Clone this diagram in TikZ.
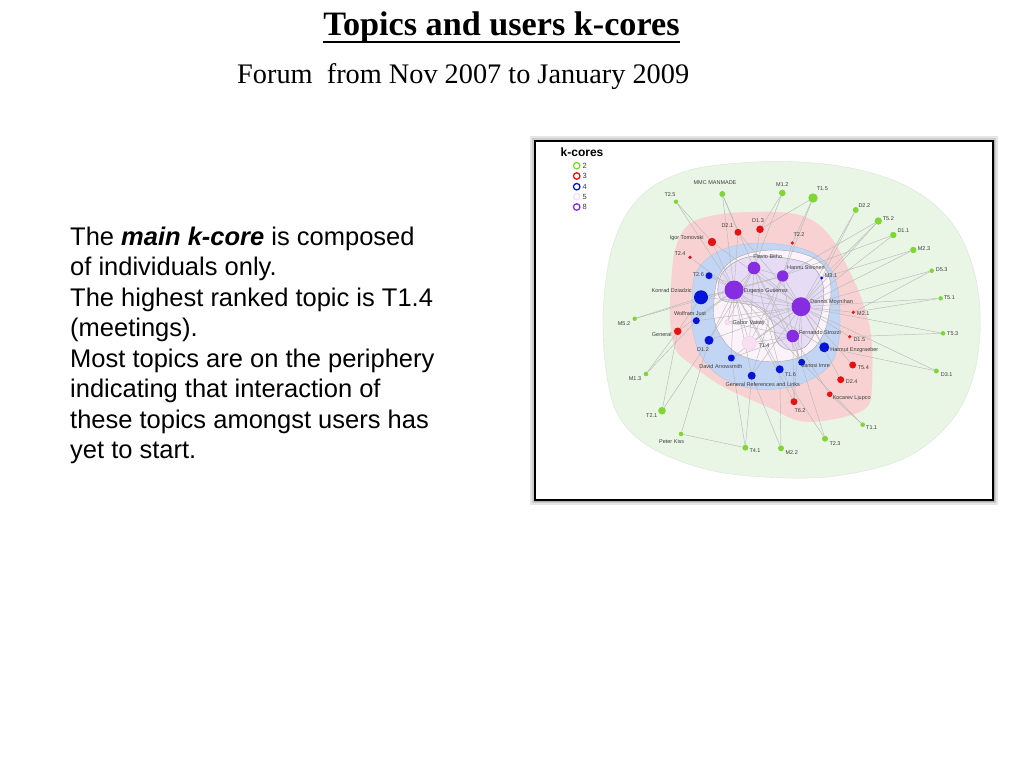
\documentclass[tikz,border=0pt]{standalone}
\usepackage{fontspec}
\setmainfont{Liberation Serif}
\setsansfont{Liberation Sans}
\definecolor{kgreen}{RGB}{128,214,52}
\definecolor{kred}{RGB}{228,18,18}
\definecolor{kblue}{RGB}{5,20,215}
\definecolor{kpurple}{RGB}{135,45,225}
\definecolor{kpink}{RGB}{250,222,242}
\definecolor{rgreen}{RGB}{233,246,230}
\definecolor{rred}{RGB}{248,210,210}
\definecolor{rblue}{RGB}{194,213,244}
\definecolor{rwhite}{RGB}{251,243,249}
\definecolor{rpurple}{RGB}{230,220,246}
\definecolor{edgec}{RGB}{185,185,185}
\definecolor{lblc}{RGB}{60,60,60}
\pgfdeclarelayer{bg}
\pgfdeclarelayer{edges}
\pgfsetlayers{bg,edges,main}
\tikzset{
  gn/.style={circle,fill=kgreen,inner sep=0,minimum size=#1},
  rn/.style={circle,fill=kred,inner sep=0,minimum size=#1},
  bn/.style={circle,fill=kblue,inner sep=0,minimum size=#1},
  pn/.style={circle,fill=kpurple,inner sep=0,minimum size=#1},
  kn/.style={circle,fill=kpink,draw=kpink!80!gray,line width=0.3,inner sep=0,minimum size=#1},
  edge/.style={draw=edgec,line width=0.45},
  lbl/.style={font=\sffamily\fontsize{5.5}{6}\selectfont,text=lblc,inner sep=0},
  txt/.style={font=\sffamily\fontsize{25.5}{30}\selectfont,anchor=base west,inner sep=0},
  legring/.style={circle,draw=#1,line width=1.3,inner sep=0,minimum size=6.5},
  legnum/.style={font=\sffamily\fontsize{7.5}{8}\selectfont,text=lblc,inner sep=0,anchor=west},
  region/.style={line width=0.4}
}
\begin{document}
\begin{tikzpicture}[x=1pt,y=-1pt]
\useasboundingbox (0,0) rectangle (1024,768);

\begin{pgfonlayer}{bg}
\fill[white] (0,0) rectangle (1024,768);
% frame with shadow
\fill[gray!20] (530,136) rectangle (998,505);
\fill[gray!40] (532,138) rectangle (996,503);
\fill[gray!65] (533.5,139.5) rectangle (994.5,501.5);
\filldraw[fill=white,draw=black,line width=1.8] (535,141) rectangle (993,500);
% regions
\filldraw[region,fill=rgreen,draw=rgreen!85!gray] plot[smooth cycle,tension=0.6] coordinates {
 (603,320) (606,280) (613,245) (628,212) (652,187) (690,170) (740,163) (800,162) (860,170) (910,188) (948,218) (970,258) (980,310) (975,370) (952,420) (905,458) (835,476) (765,477) (705,469) (650,447) (618,415) (606,370)};
\fill[rred] plot[smooth cycle,tension=0.6] coordinates {
 (670,320) (671,285) (675,250) (688,225) (715,215) (750,212) (790,213) (815,222) (833,240) (848,268) (862,300) (871,335) (872,385) (866,408) (835,419) (800,421) (770,408) (740,395) (715,382) (692,365) (676,350)};
\filldraw[region,fill=rblue,draw=rblue!80!gray] plot[smooth cycle,tension=0.6] coordinates {
 (692,300) (695,275) (708,258) (730,247) (760,243) (790,246) (813,253) (830,268) (838,290) (840,320) (838,345) (830,365) (810,380) (785,388) (755,389) (728,381) (710,368) (698,350) (692,325)};
\filldraw[region,fill=rwhite,draw=gray!70] plot[smooth cycle,tension=0.6] coordinates {
 (714,300) (718,278) (730,262) (750,253) (775,250) (800,253) (820,262) (830,280) (830,305) (825,330) (812,350) (790,360) (760,361) (735,352) (720,335) (714,318)};
\filldraw[region,fill=rpurple,draw=gray!80] plot[smooth cycle,tension=0.6] coordinates {
 (718,293) (721,275) (735,262) (755,256) (785,258) (810,265) (822,281) (823,305) (816,330) (805,347) (790,350) (777,342) (772,322) (760,308) (740,303) (724,301)};
\end{pgfonlayer}

% titles
\node[anchor=base,inner sep=0,font=\fontsize{34.2}{40}\selectfont\bfseries] (title) at (501.5,35.5) {Topics and users k-cores};
\draw[line width=1.9] ([yshift=-6.5pt]title.base west) -- ([yshift=-6.5pt]title.base east);
\node[anchor=base west,inner sep=0,font=\fontsize{28.3}{33}\selectfont] (sub) at (237,83.3) {Forum\ \ from Nov 2007 to January 2009};

% left text
\node[txt] (l1) at (70,245.3) {The \textbf{\textit{main k-core}} is composed};
\node[txt] (l2) at (70,275.8) {of individuals only.};
\node[txt] (l3) at (70,306.3) {The highest ranked topic is T1.4};
\node[txt] (l4) at (70,336.8) {(meetings).};
\node[txt] (l5) at (70,367.3) {Most topics are on the periphery};
\node[txt] (l6) at (70,397.8) {indicating that interaction of};
\node[txt] (l7) at (70,428.3) {these topics amongst users has};
\node[txt] (l8) at (70,458.8) {yet to start.};

% legend
\node[font=\sffamily\bfseries\fontsize{12}{13}\selectfont,inner sep=0] (legt) at (582,152.7) {k-cores};
\node[legring=kgreen] (lg2) at (576.7,165.7) {};
\node[legring=kred] (lg3) at (576.7,176) {};
\node[legring=kblue] (lg4) at (576.7,186.7) {};
\node[legring=kpink] (lg5) at (576.7,196.7) {};
\node[legring=kpurple] (lg8) at (576.7,207) {};
\node[legnum] (ln2) at (582.5,165.7) {2};
\node[legnum] (ln3) at (582.5,176) {3};
\node[legnum] (ln4) at (582.5,186.7) {4};
\node[legnum] (ln5) at (582.5,196.7) {5};
\node[legnum] (ln8) at (582.5,207) {8};

% nodes: green
\node[gn=6] (mmc) at (722.3,194) {};
\node[gn=4.4] (t25) at (676,201.7) {};
\node[gn=6.6] (m12) at (782.3,193) {};
\node[gn=9.4] (t15) at (813,198) {};
\node[gn=6] (d22) at (855.7,210) {};
\node[gn=7.4] (t52) at (878.3,221) {};
\node[gn=6.4] (d11) at (893.3,235) {};
\node[gn=6.4] (m23) at (913.3,250) {};
\node[gn=4.6] (d53) at (931.7,270.7) {};
\node[gn=4.4] (t51) at (940.7,298.3) {};
\node[gn=4.6] (t53) at (943,333.3) {};
\node[gn=5] (d31) at (936.3,371) {};
\node[gn=4.6] (t11) at (862.7,424.7) {};
\node[gn=6] (t23) at (825,438.7) {};
\node[gn=6] (m22) at (781,448.3) {};
\node[gn=6] (t41) at (745.3,447.7) {};
\node[gn=4.6] (pk) at (681,434) {};
\node[gn=7.6] (t21) at (662,410.7) {};
\node[gn=4.6] (m13) at (646,374) {};
\node[gn=4.4] (m52) at (634.7,318.7) {};
% red
\node[rn=7] (d21) at (738,232.3) {};
\node[rn=7.6] (d13) at (760,229.3) {};
\node[rn=8.4] (igor) at (712,242) {};
\node[rn=3.6] (t22) at (792.3,243) {};
\node[rn=3.6] (t24) at (690,257.3) {};
\node[rn=3.6] (m21) at (853.3,312.3) {};
\node[rn=7.6] (gen) at (677.7,331.3) {};
\node[rn=3.6] (d15) at (849.7,336.7) {};
\node[rn=7] (t54) at (852.7,365) {};
\node[rn=7] (d24) at (840.7,379.7) {};
\node[rn=5.6] (koc) at (829.7,394.3) {};
\node[rn=7] (t62) at (794,401.7) {};
% blue
\node[bn=7] (t26) at (709,275.7) {};
\node[bn=14] (konrad) at (701,297.3) {};
\node[bn=3.4] (m31) at (821.7,278) {};
\node[bn=7] (wolf) at (696.3,320.7) {};
\node[bn=9] (d12) at (709,340.3) {};
\node[bn=10] (harm) at (824.3,347.3) {};
\node[bn=7] (david) at (731.3,358) {};
\node[bn=7] (janos) at (801.7,362.3) {};
\node[bn=8] (t16) at (779.7,369.3) {};
\node[bn=8] (grl) at (751.7,375.7) {};
% k5 / k8
\node[kn=5] (gabor) at (727.3,322.3) {};
\node[kn=14] (t14) at (749.3,343.3) {};
\node[pn=12.6] (flavio) at (754,268) {};
\node[pn=11.4] (hannu) at (782.7,276) {};
\node[pn=19] (eug) at (734,290) {};
\node[pn=19] (dennis) at (801,306.7) {};
\node[pn=12.6] (fern) at (792.7,336) {};

% edges
\begin{pgfonlayer}{edges}
\foreach \a/\b in {t25/igor,t25/eug,mmc/d21,mmc/eug,mmc/flavio,m12/d13,m12/flavio,t15/hannu,t15/d13,t15/t22,
  d22/m31,d22/dennis,t52/dennis,t52/hannu,t52/m31,d11/dennis,d11/hannu,m23/dennis,m23/m31,d53/dennis,d53/m21,
  t51/dennis,t51/m21,t53/dennis,t53/d15,d31/harm,d31/dennis,t11/koc,t11/janos,t23/t16,t23/fern,m22/grl,m22/t16,
  t41/pk,t41/grl,t41/david,pk/d12,t21/gen,t21/d12,m13/gen,m13/wolf,m52/konrad,m52/eug,
  igor/eug,d21/eug,d13/flavio,t22/hannu,t24/eug,gen/eug,gen/konrad,m21/dennis,d15/dennis,t54/dennis,d24/dennis,
  koc/fern,t62/eug,t62/dennis,t26/eug,konrad/eug,konrad/dennis,wolf/eug,d12/eug,d12/dennis,harm/dennis,
  david/eug,janos/dennis,t16/eug,grl/eug,grl/dennis,m31/dennis,t26/dennis,wolf/dennis,david/dennis,janos/eug,
  eug/flavio,eug/hannu,eug/dennis,eug/fern,flavio/hannu,flavio/dennis,hannu/dennis,dennis/fern,flavio/fern,
  hannu/fern,gabor/eug,t14/eug,t14/dennis,gabor/dennis,t14/fern,harm/eug,igor/dennis,d21/dennis,t62/fern,
  t14/flavio,t14/hannu,gabor/flavio,gabor/fern,d12/flavio,david/fern,t16/flavio,grl/hannu,janos/flavio,konrad/hannu}
  {\draw[edge] (\a) -- (\b);}
\end{pgfonlayer}

% labels
\node[lbl] (Lmmc) at (715,182.7) {MMC MANMADE};
\node[lbl] (Lt25) at (670,194.3) {T2.5};
\node[lbl] (Lm12) at (782.3,184.3) {M1.2};
\node[lbl] (Lt15) at (822.3,189) {T1.5};
\node[lbl] (Ld22) at (864.3,205.3) {D2.2};
\node[lbl] (Lt52) at (888.3,219) {T5.2};
\node[lbl] (Ld11) at (903.3,230.7) {D1.1};
\node[lbl] (Lm23) at (924,248.3) {M2.3};
\node[lbl] (Ld53) at (941.7,270) {D5.3};
\node[lbl] (Lt51) at (949.3,297.7) {T5.1};
\node[lbl] (Lt53) at (952.7,333.3) {T5.3};
\node[lbl] (Ld31) at (946.7,374.3) {D3.1};
\node[lbl] (Lt11) at (871.7,427.3) {T1.1};
\node[lbl] (Lt23) at (835,443.3) {T2.3};
\node[lbl] (Lm22) at (791.7,452.7) {M2.2};
\node[lbl] (Lt41) at (755,450.7) {T4.1};
\node[lbl] (Lpk) at (671.7,441.7) {Peter Kiss};
\node[lbl] (Lt21) at (651.7,416) {T2.1};
\node[lbl] (Lm13) at (635,378.3) {M1.3};
\node[lbl] (Lm52) at (624,323.3) {M5.2};
\node[lbl] (Ld21) at (727.3,225.3) {D2.1};
\node[lbl] (Ld13) at (758,220.7) {D1.3};
\node[lbl] (Ligor) at (686.7,237.7) {Igor Tomovski};
\node[lbl] (Lt22) at (799,235) {T2.2};
\node[lbl] (Lt24) at (680,253.3) {T2.4};
\node[lbl] (Lm21) at (863.3,314) {M2.1};
\node[lbl] (Lgen) at (661.7,335) {General};
\node[lbl] (Ld15) at (859.3,339.3) {D1.5};
\node[lbl] (Lt54) at (863.3,367.3) {T5.4};
\node[lbl] (Ld24) at (851.7,381.7) {D2.4};
\node[lbl] (Lkoc) at (851.7,398.3) {Kocarev Ljupco};
\node[lbl] (Lt62) at (800,411) {T6.2};
\node[lbl] (Lt26) at (698.3,274.7) {T2.6};
\node[lbl] (Lkonrad) at (671.7,291) {Konrad Dziadzic};
\node[lbl] (Lm31) at (831,275.7) {M3.1};
\node[lbl] (Lwolf) at (690,313.3) {Wolfram Just};
\node[lbl] (Ld12) at (703,349.3) {D1.2};
\node[lbl] (Lharm) at (854.3,350.3) {Harmut Enzgraeber};
\node[lbl] (Ldavid) at (721,367) {David Arrowsmith};
\node[lbl] (Ljanos) at (815.7,365.3) {Janosi Imre};
\node[lbl] (Lt16) at (790.3,374.7) {T1.6};
\node[lbl] (Lgrl) at (762.7,385) {General References and Links};
\node[lbl] (Lgabor) at (748.7,323.3) {Gabor Vattay};
\node[lbl] (Lt14) at (764,345.3) {T1.4};
\node[lbl] (Lflavio) at (767.7,257) {Flavio Bitho};
\node[lbl] (Lhannu) at (806,268) {Hannu Sivonen};
\node[lbl] (Leug) at (765.7,291) {Eugenio Gutierrez};
\node[lbl] (Ldennis) at (831.7,301.7) {Dennis Moynihan};
\node[lbl] (Lfern) at (820,333) {Fernando Strozzi};
\end{tikzpicture}
\end{document}
